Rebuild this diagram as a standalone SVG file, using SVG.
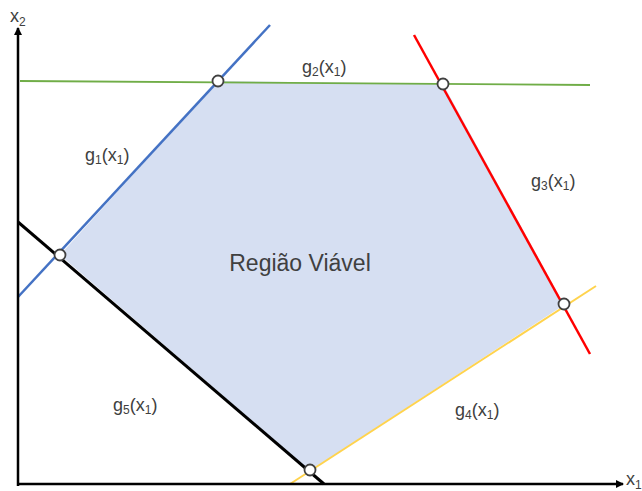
<svg xmlns="http://www.w3.org/2000/svg" width="642" height="491" viewBox="0 0 642 491">
<style>
.lbl{font-family:"Liberation Sans",Arial,sans-serif;font-size:18px;fill:#404040}
.sub{font-size:12px}
.pt{fill:#fff;stroke:#404040;stroke-width:1.8}
</style>
<defs>
<marker id="ah" markerWidth="8" markerHeight="8" refX="7" refY="4" orient="auto" markerUnits="userSpaceOnUse" viewBox="0 0 8 8">
<path d="M0,0 L8,4 L0,8 z" fill="#000"/>
</marker>
</defs>
<rect width="642" height="491" fill="#fff"/>
<g id="region">
<polygon points="60,255 218,81 443,84 564,305 310,471" fill="#d6dff2"/>
<text x="300" y="271" text-anchor="middle" class="lbl" style="font-size:23px">Região Viável</text>
</g>
<g id="connectors">
<line id="g2" x1="20" y1="81" x2="590" y2="85" stroke="#70ad47" stroke-width="1.8"/>
<line id="g1" x1="18" y1="297" x2="270" y2="25" stroke="#4472c4" stroke-width="2.5"/>
<line id="g3" x1="414" y1="35" x2="590" y2="354" stroke="#ff0000" stroke-width="2.5"/>
<line id="g4" x1="290" y1="484" x2="596" y2="286" stroke="#ffd34d" stroke-width="2"/>
<line id="g5" x1="18" y1="222" x2="324" y2="484" stroke="#000" stroke-width="3"/>
<line id="xaxis" x1="18" y1="484" x2="623" y2="484" stroke="#000" stroke-width="2.5" marker-end="url(#ah)"/>
<line id="yaxis" x1="18" y1="486" x2="18" y2="28" stroke="#000" stroke-width="2.5" marker-end="url(#ah)"/>
</g>
<g id="points">
<circle class="pt" cx="218" cy="81" r="5.5"/>
<circle class="pt" cx="443" cy="84" r="5.5"/>
<circle class="pt" cx="60" cy="255" r="5.5"/>
<circle class="pt" cx="564" cy="304" r="5.5"/>
<circle class="pt" cx="310" cy="470" r="5.5"/>
</g>
<g id="labels">
<text class="lbl" x="10" y="22">x<tspan class="sub" dy="4">2</tspan></text>
<text class="lbl" x="626" y="485">x<tspan class="sub" dy="4">1</tspan></text>
<text class="lbl" x="85" y="161">g<tspan class="sub" dy="3">1</tspan><tspan dy="-3">(x</tspan><tspan class="sub" dy="3">1</tspan><tspan dy="-3">)</tspan></text>
<text class="lbl" x="302" y="73">g<tspan class="sub" dy="3">2</tspan><tspan dy="-3">(x</tspan><tspan class="sub" dy="3">1</tspan><tspan dy="-3">)</tspan></text>
<text class="lbl" x="531" y="187">g<tspan class="sub" dy="3">3</tspan><tspan dy="-3">(x</tspan><tspan class="sub" dy="3">1</tspan><tspan dy="-3">)</tspan></text>
<text class="lbl" x="455" y="416">g<tspan class="sub" dy="3">4</tspan><tspan dy="-3">(x</tspan><tspan class="sub" dy="3">1</tspan><tspan dy="-3">)</tspan></text>
<text class="lbl" x="113" y="411">g<tspan class="sub" dy="3">5</tspan><tspan dy="-3">(x</tspan><tspan class="sub" dy="3">1</tspan><tspan dy="-3">)</tspan></text>
</g>
</svg>
